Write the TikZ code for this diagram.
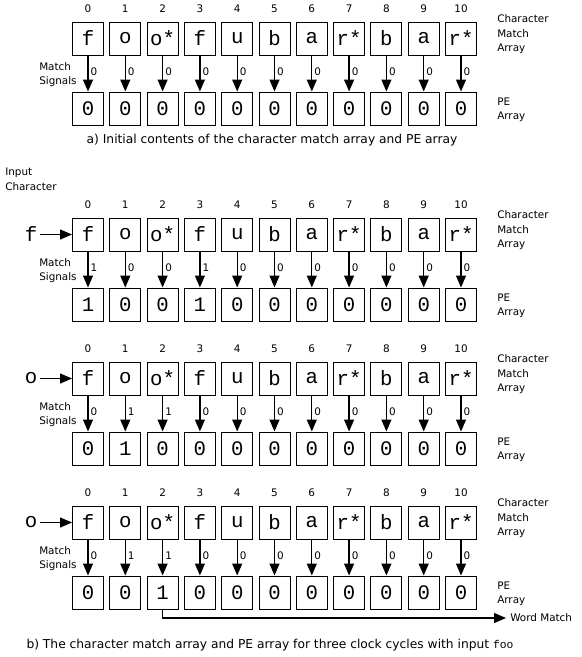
\documentclass[tikz,border=0pt]{standalone}
\usepackage{fontspec}
\setmainfont{DejaVu Sans}
\newfontfamily\monofam{Liberation Mono}
\usetikzlibrary{arrows.meta}
\newcommand\labfont{\fontsize{7.8}{10.9}\selectfont}
\newcommand\capfont{\fontsize{9.2}{11}\selectfont}
\newcommand\boxfont{\monofam\fontsize{15.5}{15.5}\selectfont}
\tikzset{
  cbox/.style={draw, line width=0.75pt, minimum width=23.25pt, minimum height=24.75pt, inner sep=0pt, font=\boxfont},
  idx/.style={font=\labfont, inner sep=0pt},
  lab/.style={font=\labfont, align=left, inner sep=0pt},
  val/.style={font=\labfont, inner sep=1.5pt, anchor=west},
  sig/.style={line width=1pt, -{Triangle[length=9pt,width=7.5pt]}},
  inp/.style={font=\boxfont, inner sep=2pt},
  capt/.style={font=\capfont, inner sep=0pt}
}
% #1 row id, #2 top y, #3 match values, #4 PE values
\newcommand\arrayrow[4]{%
  \foreach \ch [count=\i from 0] in {f,o,o*,f,u,b,a,r*,b,a,r*}{
    \pgfmathsetmacro\xx{88+37.3*\i}
    \pgfmathtruncatemacro\vv{{#3}[\i]}
    \pgfmathtruncatemacro\pp{{#4}[\i]}
    \node[cbox] (c#1-\i) at (\xx,#2+16.5) {\ch};
    \node[idx] (n#1-\i) at (\xx,#2-13) {\i};
    \node[cbox] (p#1-\i) at (\xx,#2+86.5) {\pp};
    \draw[sig] (c#1-\i) -- (p#1-\i) node[val, pos=0.45] (v#1-\i) {\vv};
  }
  \node[lab, anchor=west] (cma#1) at (497,#2+12.5) {Character\\Match\\Array};
  \node[lab, anchor=west] (pea#1) at (497,#2+88) {PE\\Array};
  \node[lab, anchor=west] (ms#1) at (39,#2+52.5) {Match\\Signals};
}
\begin{document}
\begin{tikzpicture}[x=0.75pt,y=-0.75pt]
\useasboundingbox (0,0) rectangle (582,657);
% a)
\arrayrow{a}{22}{0,0,0,0,0,0,0,0,0,0,0}{0,0,0,0,0,0,0,0,0,0,0}
\node[capt] (capa) at (272,140) {a) Initial contents of the character match array and PE array};
% b)
\node[lab, anchor=west] (inchar) at (5,179.5) {Input\\Character};
\arrayrow{b}{218}{1,0,0,1,0,0,0,0,0,0,0}{1,0,0,1,0,0,0,0,0,0,0}
\arrayrow{c}{362}{0,1,1,0,0,0,0,0,0,0,0}{0,1,0,0,0,0,0,0,0,0,0}
\arrayrow{d}{506}{0,1,1,0,0,0,0,0,0,0,0}{0,0,1,0,0,0,0,0,0,0,0}
\node[inp] (ib) at (31,234.5) {f};
\node[inp] (ic) at (31,378.5) {o};
\node[inp] (id) at (31,522.5) {o};
\draw[sig] (ib) -- (cb-0);
\draw[sig] (ic) -- (cc-0);
\draw[sig] (id) -- (cd-0);
\node[lab, anchor=west] (wm) at (510,618) {Word Match};
\draw[sig] (pd-2.south) |- ([xshift=-3pt]wm.west);
\node[capt] (capb) at (270,645) {b) The character match array and PE array for three clock cycles with input {\monofam\fontsize{8.5}{10}\selectfont foo}};
\end{tikzpicture}
\end{document}
